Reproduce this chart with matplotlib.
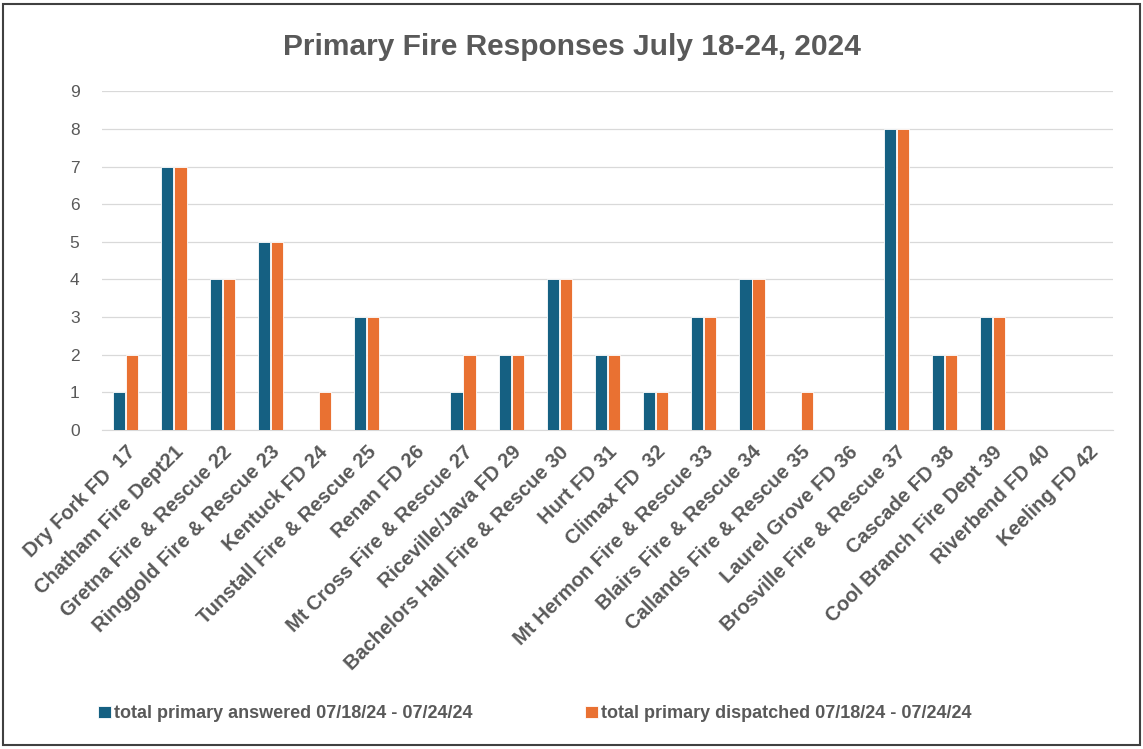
import numpy as np
import matplotlib.pyplot as plt
from matplotlib.patches import Rectangle

plt.rcParams['font.family'] = ['Liberation Sans', 'DejaVu Sans']

estaciones = ['Dry Fork FD  17', 'Chatham Fire Dept21', 'Gretna Fire & Rescue 22',
              'Ringgold Fire & Rescue 23', 'Kentuck FD 24', 'Tunstall Fire & Rescue 25',
              'Renan FD 26', 'Mt Cross Fire & Rescue 27', 'Riceville/Java FD 29',
              'Bachelors Hall Fire & Rescue 30', 'Hurt FD 31', 'Climax FD  32',
              'Mt Hermon Fire & Rescue 33', 'Blairs Fire & Rescue 34',
              'Callands Fire & Rescue 35', 'Laurel Grove FD 36', 'Brosville Fire & Rescue 37',
              'Cascade FD 38', 'Cool Branch Fire Dept 39', 'Riverbend FD 40', 'Keeling FD 42']
contestadas = [1, 7, 4, 5, 0, 3, 0, 1, 2, 4, 2, 1, 3, 4, 0, 0, 8, 2, 3, 0, 0]
despachadas = [2, 7, 4, 5, 1, 3, 0, 2, 2, 4, 2, 1, 3, 4, 1, 0, 8, 2, 3, 0, 0]
etiquetas = ['total primary answered 07/18/24 - 07/24/24',
             'total primary dispatched 07/18/24 - 07/24/24']

azul = '#156082'
naranja = '#E97132'
gris = '#595959'

fig = plt.figure(figsize=(11.43, 7.49), dpi=100)
ax = fig.add_axes([0.089, 0.426, 0.885, 0.452])

x = np.arange(len(estaciones))
ancho = 0.25
ax.bar(x - 0.135, contestadas, ancho, color=azul, edgecolor='white', linewidth=0.6,
       label=etiquetas[0], zorder=3)
ax.bar(x + 0.135, despachadas, ancho, color=naranja, edgecolor='white', linewidth=0.6,
       label=etiquetas[1], zorder=3)

ax.set_xlim(-0.5, len(estaciones) - 0.5)
ax.set_ylim(0, 9)
ax.set_yticks(range(10))
ax.yaxis.grid(True, color='#D9D9D9', linewidth=0.9, zorder=0)
for s in ['top', 'right', 'left']:
    ax.spines[s].set_visible(False)
ax.spines['bottom'].set_color('#D9D9D9')
ax.tick_params(axis='both', length=0, colors=gris, labelsize=12.5)
ax.tick_params(axis='y', pad=16)
ax.tick_params(axis='x', pad=9)
ax.set_xticks(x)
ax.set_xticklabels(estaciones, rotation=45, ha='right', rotation_mode='anchor',
                   fontsize=14.5, fontweight='bold', color=gris)

fig.suptitle('Primary Fire Responses July 18-24, 2024', y=0.956, fontsize=21.5,
             fontweight='bold', color=gris)

fig.legend(loc='center', bbox_to_anchor=(0.468, 0.047), ncol=2, frameon=False,
           handlelength=0.7, handleheight=0.7, columnspacing=6.2,
           handletextpad=0.2, prop={'weight': 'bold', 'size': 13})
for t in fig.legends[0].get_texts():
    t.set_color(gris)

fig.patches.append(Rectangle((0.003, 0.005), 0.994, 0.99, transform=fig.transFigure,
                             fill=False, edgecolor='#404040', linewidth=1.5))

plt.savefig('out.png', dpi=100)
